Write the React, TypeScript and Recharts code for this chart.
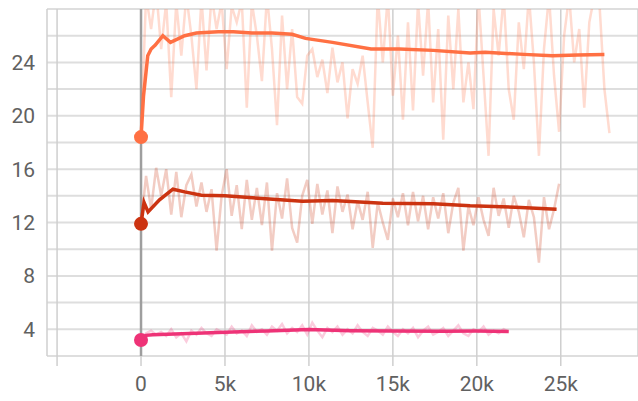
import React from "react";
import { LineChart, Line, XAxis, YAxis, CartesianGrid, ReferenceLine } from "recharts";

// raw scalars were logged every 300 steps
const RAW_INTERVAL = 300;

const ORANGE_RAW = [
  18.4, 29, 26.5, 29.5, 25, 28.5, 21.4, 28.5, 24.5, 29, 26, 22.0, 28.8, 23.4, 29, 26.5,
  28.5, 23.5, 28.2, 27, 28.6, 20.6, 28.5, 26, 22.6, 29, 25, 19.3, 27.5, 22, 26.5, 21.4,
  20.9, 24.5, 25.0, 22.9, 24.2, 21.7, 25.1, 22.5, 24.0, 19.8, 23.5, 22.4, 24.5, 21.0,
  17.6, 29, 24, 29, 21.5, 26, 19.7, 27, 20.4, 28.5, 23, 28.6, 21, 26.5, 18.2, 27.5, 22,
  28, 21, 24, 20.5, 29, 23, 17.0, 28, 24.5, 29, 22, 19.7, 27, 23.5, 29, 24, 17.0, 25, 29,
  23, 18.8, 26, 29, 24, 26.5, 20.6, 27, 29, 28.5, 22, 18.7,
];

const RED_RAW = [
  11.9, 15.5, 13, 16.1, 14, 16, 12.6, 15.8, 12.4, 14.8, 15.6, 13.2, 15, 12.8, 14.5, 9.9,
  14, 16, 12.5, 14.8, 11.5, 15.2, 12.2, 14.6, 11.8, 15, 9.9, 14.2, 12.3, 15.3, 11.6, 10.5,
  14, 15.2, 11.9, 14.9, 12.6, 14.4, 11.2, 14.7, 12.8, 14.1, 11.5, 13.6, 12.2, 14.3, 10.1,
  13.5, 12, 10.7, 13.8, 12.4, 14.2, 11.8, 14.3, 12.1, 14, 11.5, 13.9, 12.3, 14.2, 11.2,
  13.5, 14.6, 9.9, 13.2, 11.8, 13.9, 12.2, 11, 14.6, 12.5, 13.8, 11.6, 14, 12.8, 10.9,
  13.7, 12.4, 9.0, 13.9, 11.5, 13, 14.9,
];

const PINK_RAW = [
  3.2, 3.7, 3.9, 3.6, 3.8, 3.5, 4.0, 3.4, 3.7, 3.1, 3.9, 3.6, 4.1, 3.7, 3.5, 4.0, 3.8,
  3.6, 4.2, 3.7, 3.9, 3.5, 4.3, 3.8, 4.0, 3.6, 4.2, 3.9, 4.4, 3.7, 4.1, 3.8, 4.3, 3.6,
  4.5, 3.9, 3.4, 4.1, 3.8, 4.2, 3.6, 4.0, 3.7, 4.3, 3.8, 3.5, 4.1, 3.9, 3.6, 4.2, 3.8,
  3.5, 4.0, 3.7, 4.1, 3.4, 3.9, 4.2, 3.6, 3.8, 4.1, 3.5, 3.9, 4.3, 3.7, 3.5, 4.0, 3.8,
  4.2, 3.6, 3.9, 3.7, 4.0, 3.8,
];

const ORANGE_SMOOTH_STEPS = [0, 150, 400, 600, 850, 1300, 1750, 2100, 2600, 3300, 4600, 5500, 6600, 7800, 9000, 9800, 11400, 13700, 15400, 17400, 19600, 20500, 22800, 24500, 26000, 27600];
const ORANGE_SMOOTH = [18.4, 21.5, 24.5, 25.0, 25.3, 26.0, 25.5, 25.7, 26.0, 26.2, 26.3, 26.3, 26.2, 26.2, 26.1, 25.8, 25.5, 25.0, 25.0, 24.9, 24.7, 24.75, 24.6, 24.5, 24.55, 24.6];

const RED_SMOOTH_STEPS = [0, 180, 420, 1100, 1900, 2600, 3600, 5000, 7200, 9600, 11400, 14400, 17400, 19600, 22300, 24750];
const RED_SMOOTH = [11.9, 13.5, 12.8, 13.7, 14.5, 14.3, 14.05, 14.0, 13.8, 13.6, 13.65, 13.45, 13.4, 13.25, 13.15, 13.0];

const PINK_SMOOTH_STEPS = [0, 300, 700, 2000, 5000, 7500, 10000, 12500, 15000, 18000, 20000, 21900];
const PINK_SMOOTH = [3.2, 3.55, 3.6, 3.65, 3.78, 3.88, 3.98, 3.9, 3.87, 3.86, 3.87, 3.83];

const Y_TICKS = [2, 4, 6, 8, 10, 12, 14, 16, 18, 20, 22, 24, 26, 28];
const Y_LABELS = [4, 8, 12, 16, 20, 24];
const X_TICKS = [-5000, 0, 5000, 10000, 15000, 20000, 25000];
const X_LABELS = ["", "0", "5k", "10k", "15k", "20k", "25k"];

const ORANGE = "#ff7043";
const RED = "#cc3311";
const PINK = "#ee3377";
const TEXT = "#616161";
const FONT = "Roboto, 'Noto Sans', sans-serif";

const rawPoints = (vals: number[]) => vals.map((v, i) => ({ step: i * RAW_INTERVAL, value: v }));
const smoothPoints = (steps: number[], vals: number[]) => steps.map((s, i) => ({ step: s, value: vals[i] }));

const startDot = (color: string) => (props: any) =>
  props.index === 0 ? (
    <circle key={`dot-${color}`} cx={props.cx} cy={props.cy} r={7} fill={color} />
  ) : (
    <g key={`dot-${color}-${props.index}`} />
  );

const YTick = ({ x, y, payload }: any) =>
  Y_LABELS.includes(payload.value) ? (
    <text x={x} y={y} dy="0.355em" textAnchor="end" fill={TEXT} fontSize={21} fontFamily={FONT}>
      {payload.value}
    </text>
  ) : (
    <g />
  );

export default function App() {
  const series = [
    { key: "orange", color: ORANGE, raw: rawPoints(ORANGE_RAW), smooth: smoothPoints(ORANGE_SMOOTH_STEPS, ORANGE_SMOOTH) },
    { key: "red", color: RED, raw: rawPoints(RED_RAW), smooth: smoothPoints(RED_SMOOTH_STEPS, RED_SMOOTH) },
    { key: "pink", color: PINK, raw: rawPoints(PINK_RAW), smooth: smoothPoints(PINK_SMOOTH_STEPS, PINK_SMOOTH) },
  ];

  return (
    <div style={{ position: "absolute", left: 0, top: 0, width: 638, height: 401, background: "#fff" }}>
      <LineChart width={638} height={401} margin={{ top: 9, right: 0, bottom: 0, left: 0 }}>
        <CartesianGrid vertical={false} stroke="#dedede" strokeWidth={2} />
        <CartesianGrid horizontal={false} stroke="#cfcfcf" strokeWidth={1.5} />
        <XAxis
          dataKey="step"
          type="number"
          domain={[-5600, 29600]}
          ticks={X_TICKS}
          allowDataOverflow
          axisLine={false}
          tickLine={{ stroke: "#cfcfcf", strokeWidth: 1.5 }}
          tickSize={10}
          tickMargin={10}
          height={45}
          interval={0}
          tickFormatter={(v: number) => X_LABELS[X_TICKS.indexOf(v)]}
          tick={{ fill: TEXT, fontSize: 21, fontFamily: FONT }}
        />
        <YAxis
          type="number"
          domain={[2, 28]}
          ticks={Y_TICKS}
          allowDataOverflow
          axisLine={false}
          tickLine={false}
          tickSize={0}
          tickMargin={12}
          width={47}
          interval={0}
          tick={<YTick />}
        />
        <ReferenceLine x={0} stroke="#9e9e9e" strokeWidth={2.5} />
        {series.map((s) => (
          <Line
            key={`${s.key}-raw`}
            data={s.raw}
            dataKey="value"
            type="linear"
            stroke={s.color}
            strokeOpacity={0.25}
            strokeWidth={2.5}
            dot={false}
            activeDot={false}
            isAnimationActive={false}
          />
        ))}
        {series.map((s) => (
          <Line
            key={`${s.key}-smooth`}
            data={s.smooth}
            dataKey="value"
            type="linear"
            stroke={s.color}
            strokeWidth={3.5}
            dot={startDot(s.color)}
            activeDot={false}
            isAnimationActive={false}
          />
        ))}
      </LineChart>
    </div>
  );
}
